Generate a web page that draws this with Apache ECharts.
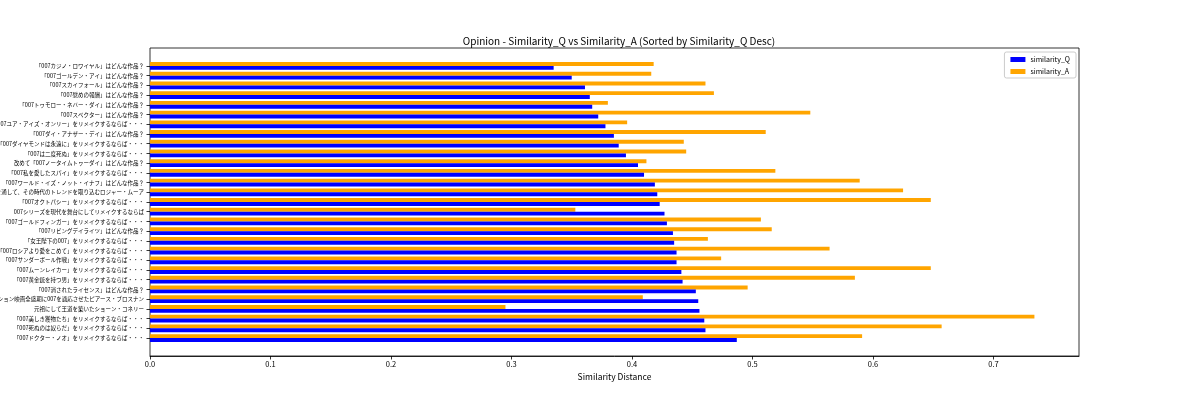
<!DOCTYPE html>
<html>
<head>
<meta charset="utf-8">
<script src="https://cdn.jsdelivr.net/npm/echarts@6/dist/echarts.min.js"></script>
<style>html,body{margin:0;padding:0;background:#fff;}#c{width:1200px;height:400px;}</style>
</head>
<body>
<div id="c"></div>
<script>
const categories = [
  "「007カジノ・ロワイヤル」はどんな作品？",
  "「007ゴールデン・アイ」はどんな作品？",
  "「007スカイフォール」はどんな作品？",
  "「007慰めの報酬」はどんな作品？",
  "「007トゥモロー・ネバー・ダイ」はどんな作品？",
  "「007スペクター」はどんな作品？",
  "「007ユア・アイズ・オンリー」をリメイクするならば・・・",
  "「007ダイ・アナザー・デイ」はどんな作品？",
  "「007ダイヤモンドは永遠に」をリメイクするならば・・・",
  "「007は二度死ぬ」をリメイクするならば・・・",
  "改めて「007ノータイムトゥーダイ」はどんな作品？",
  "「007私を愛したスパイ」をリメイクするならば・・・",
  "「007ワールド・イズ・ノット・イナフ」はどんな作品？",
  "シリーズを通して、その時代のトレンドを取り込むロジャー・ムーア",
  "「007オクトパシー」をリメイクするならば・・・",
  "007シリーズを現代を舞台にしてリメイクするならば",
  "「007ゴールドフィンガー」をリメイクするならば・・・",
  "「007リビングデイライツ」はどんな作品？",
  "「女王陛下の007」をリメイクするならば・・・",
  "「007ロシアより愛をこめて」をリメイクするならば・・・",
  "「007サンダーボール作戦」をリメイクするならば・・・",
  "「007ムーンレイカー」をリメイクするならば・・・",
  "「007黄金銃を持つ男」をリメイクするならば・・・",
  "「007消されたライセンス」はどんな作品？",
  "アクション映画全盛期に007を適応させたピアース・ブロスナン",
  "元祖にして王道を築いたショーン・コネリー",
  "「007美しき獲物たち」をリメイクするならば・・・",
  "「007死ぬのは奴らだ」をリメイクするならば・・・",
  "「007ドクター・ノオ」をリメイクするならば・・・"
];
const similarityQ = [0.335, 0.350, 0.361, 0.365, 0.367, 0.372, 0.378, 0.385, 0.389, 0.395,
  0.405, 0.410, 0.419, 0.421, 0.423, 0.427, 0.429, 0.434, 0.435, 0.437,
  0.437, 0.441, 0.442, 0.453, 0.455, 0.456, 0.460, 0.461, 0.487];
const similarityA = [0.418, 0.416, 0.461, 0.468, 0.380, 0.548, 0.396, 0.511, 0.443, 0.445,
  0.412, 0.519, 0.589, 0.625, 0.648, 0.353, 0.507, 0.516, 0.463, 0.564,
  0.474, 0.648, 0.585, 0.496, 0.409, 0.295, 0.734, 0.657, 0.591];
const xTicks = [0.0, 0.1, 0.2, 0.3, 0.4, 0.5, 0.6, 0.7];

const FONT = "'Noto Sans CJK JP', 'Noto Sans', sans-serif";
const X_MAX = 0.771;
const chart = echarts.init(document.getElementById('c'), null, {renderer: 'canvas'});
chart.setOption({
  animation: false,
  backgroundColor: '#ffffff',
  textStyle: {fontFamily: FONT},
  title: {
    text: 'Opinion - Similarity_Q vs Similarity_A (Sorted by Similarity_Q Desc)',
    left: 614, top: 31, textAlign: 'center',
    textStyle: {fontSize: 10, fontWeight: 'normal', color: '#000', fontFamily: FONT}
  },
  legend: {
    data: ['similarity_Q', 'similarity_A'],
    orient: 'vertical',
    right: 124, top: 52,
    itemWidth: 15, itemHeight: 5, itemGap: 5,
    icon: 'rect',
    padding: [4, 6, 3, 6],
    borderColor: '#cccccc', borderWidth: 1, borderRadius: 2,
    backgroundColor: 'rgba(255,255,255,0.8)',
    textStyle: {fontSize: 7, color: '#000', fontFamily: FONT}
  },
  grid: [
    {
      left: 150, right: 121, top: 48, bottom: 44,
      containLabel: false, outerBoundsMode: 'none',
      show: true, borderColor: '#000', borderWidth: 0.8, backgroundColor: 'transparent'
    },
    {
      left: 150, right: 121, top: 61.1, bottom: 57.1,
      containLabel: false, outerBoundsMode: 'none', show: false
    }
  ],
  xAxis: [
    {
      gridIndex: 0, type: 'value', min: 0, max: X_MAX, interval: 0.1,
      name: 'Similarity Distance', nameLocation: 'middle', nameGap: 16,
      nameTextStyle: {fontSize: 8.5, color: '#000', fontFamily: FONT},
      axisLine: {show: true, lineStyle: {color: '#000', width: 0.8}},
      axisTick: {show: true, length: 3.5, lineStyle: {color: '#000', width: 0.8}},
      axisLabel: {
        fontSize: 7.5, color: '#000', margin: 4, showMaxLabel: false,
        formatter: function (v) {
          for (const t of xTicks) { if (Math.abs(t - v) < 1e-9) return t.toFixed(1); }
          return '';
        }
      },
      splitLine: {show: false}
    },
    {
      gridIndex: 1, type: 'value', min: 0, max: X_MAX, show: false,
      splitLine: {show: false}
    }
  ],
  yAxis: [
    {
      gridIndex: 0, type: 'value', min: 0, max: 1, show: false,
      splitLine: {show: false}
    },
    {
      gridIndex: 1, type: 'category', data: categories, inverse: true,
      axisLine: {show: false},
      axisTick: {show: true, alignWithLabel: true, length: 3.5, lineStyle: {color: '#000', width: 0.8}},
      axisLabel: {fontSize: 5.5, color: '#000', margin: 6, interval: 0, fontFamily: FONT},
      splitLine: {show: false}
    }
  ],
  series: [
    {name: 'similarity_A', type: 'bar', xAxisIndex: 1, yAxisIndex: 1, data: similarityA,
     barWidth: '40%', barGap: '0%', itemStyle: {color: '#ffa500'}},
    {name: 'similarity_Q', type: 'bar', xAxisIndex: 1, yAxisIndex: 1, data: similarityQ,
     barWidth: '40%', barGap: '0%', itemStyle: {color: '#0000ff'}}
  ]
});
</script>
</body>
</html>
